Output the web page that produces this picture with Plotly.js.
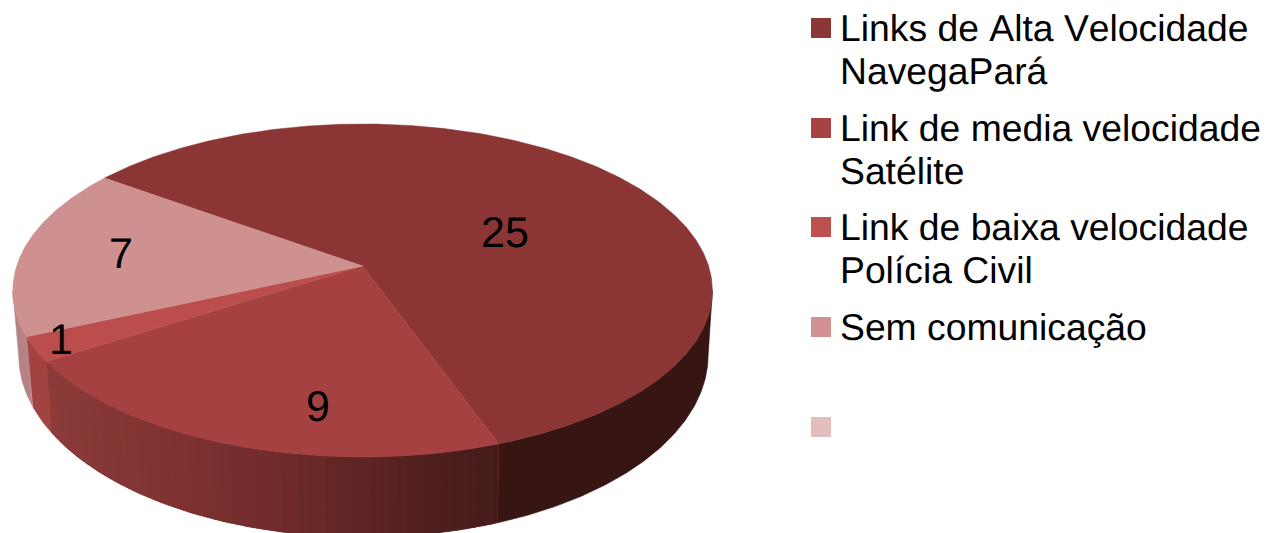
<!DOCTYPE html>
<html><head><meta charset="utf-8">
<script src="https://cdn.plot.ly/plotly-3.0.1.min.js"></script>
<style>html,body{margin:0;padding:0;background:#fff;overflow:hidden}
svg text{font-kerning:none;text-rendering:geometricPrecision}</style>
</head><body><div id="chart" style="width:1266px;height:533px"></div>
<script>
// Data
const categories = [
  ["Links de Alta Velocidade", "NavegaPará"],
  ["Link de media velocidade", "Satélite"],
  ["Link de baixa velocidade", "Polícia Civil"],
  ["Sem comunicação"],
  [""]
];
const values = [25, 9, 1, 7];
const valueLabels = ["25", "9", "1", "7"];

// Styles
const topColors = ["#8B3635", "#A54140", "#BB4E4C", "#CE9190"];
const swatchColors = ["#8C3737", "#A64443", "#BE5150", "#D09292", "#E2BEBE"];
const FONT = "Liberation Sans, Arial, sans-serif";

// Layout of the tilted pie, in the pixel-sized axes
const startDeg = -54.1, K = 0.147;
const topFace = {cx: 362.6, cy: 266, a: 346, b: 162.9};
const baseFace = {cx: 363.4, cy: 328.3, a: 341, b: 178.2};
const labelAt = [[505, 236], [318, 410], [61, 343], [121, 257]];
const swatchY = [28, 128, 227, 327, 427];
const textY = [[28, 71], [128, 171], [227, 270], [327], []];
// the rim is only seen between the left and right extremes of the ellipse
const rimFrom = Math.acos(-K) * 180 / Math.PI, rimTo = 360 - rimFrom;

function project(f, deg) {
  const t = deg * Math.PI / 180, u = Math.sin(t), v = -Math.cos(t), d = 1 - K * v;
  return [f.cx + f.a * u / d, f.cy + f.b * v / d];
}
function mix(stops, x) {
  for (let i = 0; i < stops.length - 1; i++) {
    const [x0, c0] = stops[i], [x1, c1] = stops[i + 1];
    if (x <= x1) {
      const r = Math.max(0, (x - x0) / (x1 - x0));
      return "rgb(" + c0.map((c, j) => Math.round(c + (c1[j] - c) * r)).join(",") + ")";
    }
  }
  return "rgb(" + stops[stops.length - 1][1].join(",") + ")";
}
const wallShade = [
  () => "#371513",
  x => mix([[47,[139,60,58]],[150,[129,51,49]],[260,[114,44,44]],[350,[96,37,36]],[430,[78,32,31]],[498,[69,27,26]]], x),
  () => "#A34341",
  () => "#B58383"
];

const total = values.reduce((a, b) => a + b, 0);
const traces = [];
let edges = [], acc = startDeg;
values.forEach(v => { edges.push([acc, acc + v / total * 360]); acc += v / total * 360; });

function rim(a0, a1, m, c, stroke) {
  const xs = [], ys = [];
  for (let j = 0; j <= m; j++) { const p = project(topFace, a0 + (a1 - a0) * j / m); xs.push(p[0]); ys.push(p[1]); }
  for (let j = m; j >= 0; j--) { const p = project(baseFace, a0 + (a1 - a0) * j / m); xs.push(p[0]); ys.push(p[1]); }
  xs.push(xs[0]); ys.push(ys[0]);
  traces.push({x: xs, y: ys, mode: "lines", fill: "toself", fillcolor: c, line: {color: c, width: stroke}, hoverinfo: "skip", showlegend: false});
}
// side wall: a backing piece per slice, then overlapping strips for the shading
edges.forEach((e, i) => {
  const a = Math.max(e[0], rimFrom), b = Math.min(e[1], rimTo);
  if (b <= a) return;
  const mid = project(topFace, (a + b) / 2)[0];
  rim(a, b, Math.ceil(b - a) * 2, wallShade[i](mid), 0.6);
  if (i !== 1) return;
  const n = 60, d = (b - a) / n;
  for (let s = 0; s < n; s++) {
    const a0 = a + d * s, a1 = a0 + d;
    rim(s ? a0 - d * 0.5 : a0, a1, 3, wallShade[i](project(topFace, (a0 + a1) / 2)[0]), 0);
  }
});
// top face, one filled sector per value
edges.forEach((e, i) => {
  const xs = [topFace.cx], ys = [topFace.cy], m = Math.ceil(e[1] - e[0]) * 2;
  for (let j = 0; j <= m; j++) { const p = project(topFace, e[0] + (e[1] - e[0]) * j / m); xs.push(p[0]); ys.push(p[1]); }
  xs.push(topFace.cx); ys.push(topFace.cy);
  traces.push({x: xs, y: ys, mode: "lines", fill: "toself", fillcolor: topColors[i], line: {color: topColors[i], width: 0.5},
    name: categories[i].join(" "), text: String(values[i]), hoverinfo: "name+text", showlegend: false});
});
// value labels
traces.push({x: labelAt.map(p => p[0]), y: labelAt.map(p => p[1]), mode: "text", text: valueLabels,
  textposition: "middle center", textfont: {family: FONT, size: 43, color: "#000"}, hoverinfo: "skip", showlegend: false});
// legend swatches
traces.push({x: swatchY.map(() => 821), y: swatchY, mode: "markers",
  marker: {symbol: "square", size: 20, color: swatchColors, line: {width: 0}}, hoverinfo: "skip", showlegend: false});

const annotations = [];
categories.forEach((lines, i) => lines.forEach((line, j) => {
  if (!line) return;
  annotations.push({x: 838, y: textY[i][j], xref: "x", yref: "y", text: line, showarrow: false,
    xanchor: "left", yanchor: "middle", align: "left", font: {family: FONT, size: 37.3, color: "#000"}});
}));

Plotly.newPlot("chart", traces, {
  width: 1266, height: 533, margin: {l: 0, r: 0, t: 0, b: 0},
  paper_bgcolor: "#fff", plot_bgcolor: "#fff", showlegend: false,
  xaxis: {range: [0, 1266], visible: false, fixedrange: true},
  yaxis: {range: [533, 0], visible: false, fixedrange: true},
  annotations
}, {displayModeBar: false, staticPlot: true});
</script></body></html>
